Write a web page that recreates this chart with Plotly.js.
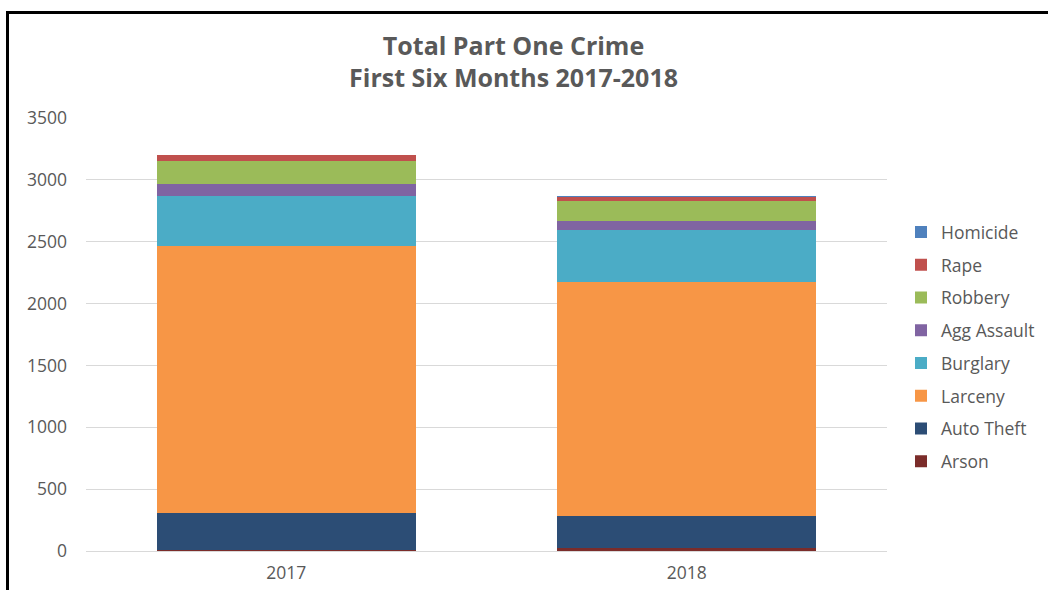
<!DOCTYPE html>
<html>
<head>
<meta charset="utf-8">
<script src="https://cdn.plot.ly/plotly-3.0.1.min.js"></script>
<style>
  html, body { margin: 0; padding: 0; background: #fff; }
  #wrap { position: relative; width: 1048px; height: 590px; }
  #chart { position: absolute; left: 0; top: 0; width: 1048px; height: 590px; }
  #frame { position: absolute; left: 6px; top: 11px; width: 1060px; height: 600px;
           border-top: 3px solid #000; border-left: 3px solid #000; pointer-events: none; }
</style>
</head>
<body>
<div id="wrap">
  <div id="chart"></div>
  <div id="frame"></div>
</div>
<script>
const years = ['2017', '2018'];
const seriesNames = ['Arson', 'Auto Theft', 'Larceny', 'Burglary', 'Agg Assault', 'Robbery', 'Rape', 'Homicide'];
const arson      = [8, 25];
const autoTheft  = [297, 258];
const larceny    = [2163, 1892];
const burglary   = [404, 422];
const aggAssault = [97, 68];
const robbery    = [186, 164];
const rape       = [44, 35];
const homicide   = [3, 2];
const seriesValues = [arson, autoTheft, larceny, burglary, aggAssault, robbery, rape, homicide];
const seriesColors = ['#7B2C2A', '#2C4D75', '#F79646', '#4BACC6', '#8064A2', '#9BBB59', '#C0504D', '#4F81BD'];
const yTicks = [0, 500, 1000, 1500, 2000, 2500, 3000, 3500];

const font = '"Open Sans", sans-serif';
const traces = seriesNames.map((name, i) => ({
  type: 'bar',
  name: name,
  x: years,
  y: seriesValues[i],
  legendgroup: name,
  legendrank: seriesNames.length - i,
  marker: { color: seriesColors[i], line: { width: 0 } },
  width: 0.647,
  hoverinfo: 'name+y'
}));

const layout = {
  width: 1048, height: 590,
  paper_bgcolor: '#fff', plot_bgcolor: '#fff',
  barmode: 'stack',
  margin: { l: 86, r: 161, t: 118, b: 39, autoexpand: false },
  font: { family: font, color: '#595959', size: 17.5 },
  title: {
    text: '<b>Total Part One Crime<br>First Six Months 2017-2018</b>',
    x: 0.49, xanchor: 'center', y: 0.9068, yanchor: 'middle',
    font: { family: font, size: 25, color: '#595959' }
  },
  xaxis: {
    type: 'category',
    tickfont: { size: 17.5, color: '#595959' },
    showline: false, zeroline: false, showgrid: false,
    ticklabelstandoff: 9
  },
  yaxis: {
    range: [0, 3500],
    tickvals: yTicks,
    ticktext: yTicks.map(String),
    gridcolor: '#D9D9D9', gridwidth: 1,
    zeroline: true, zerolinecolor: '#D9D9D9', zerolinewidth: 1,
    showline: false,
    tickfont: { size: 17.5, color: '#595959' },
    ticklabelstandoff: 18
  },
  legend: {
    x: 1.0175, xanchor: 'left', y: 0.472, yanchor: 'middle',
    traceorder: 'grouped',
    tracegroupgap: 7,
    font: { size: 17.5, color: '#595959', family: font },
    bgcolor: 'rgba(0,0,0,0)'
  },
  showlegend: true
};

Plotly.newPlot('chart', traces, layout, { displayModeBar: false, staticPlot: true });
</script>
</body>
</html>
